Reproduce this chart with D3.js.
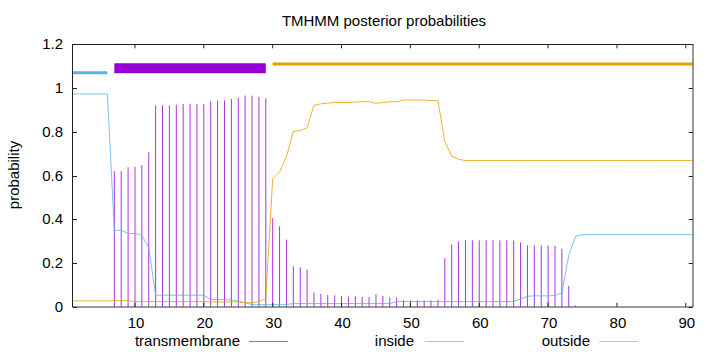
<!DOCTYPE html>
<html><head><meta charset="utf-8">
<script src="https://cdn.jsdelivr.net/npm/d3@7"></script>
<style>
html,body{margin:0;padding:0;background:#fff;}
svg{display:block;}
text{font-family:"Liberation Sans",Arial,sans-serif;fill:#000;}
</style></head>
<body>
<svg id="chart" width="720" height="352"></svg>
<script>
// positions 1..91
const positions = d3.range(1, 92);
const transmembrane = [
  0,0,0,0,0,0,
  0.620,0.620,0.638,0.640,0.648,0.706,
  0.921,0.921,0.921,0.924,0.927,0.927,0.927,0.927,
  0.940,0.942,0.944,0.950,0.956,0.966,0.965,0.959,0.953,
  0.405,0.368,0.307,0.185,0.181,0.170,
  0.066,0.059,0.054,0.052,0.050,0.048,0.048,0.045,0.045,0.057,0.050,0.043,0.042,
  0.030,0.030,0.030,0.029,0.030,0.033,
  0.222,0.284,0.299,0.304,0.304,0.304,0.304,0.304,0.304,0.304,0.303,0.295,
  0.281,0.281,0.280,0.280,0.278,0.265,0.095,0.007,
  0,0,0,0,0,0,0,0,0,0,0,0,0,0,0,0,0
];
const inside = [
  0.973,0.973,0.973,0.973,0.973,0.973,
  0.350,0.350,0.335,0.335,0.326,0.271,
  0.053,0.053,0.053,0.053,0.053,0.053,0.053,0.053,
  0.033,0.033,0.033,0.031,0.027,0.018,0.010,0.010,0.010,
  0.010,0.010,0.010,0.015,0.015,0.015,
  0.015,0.015,0.015,0.015,0.015,0.015,0.015,0.015,0.015,0.015,0.015,0.015,0.024,
  0.024,0.024,0.024,0.024,0.024,0.024,
  0.024,0.024,0.024,0.024,0.024,0.024,0.024,0.024,0.024,0.024,0.024,0.035,
  0.048,0.050,0.050,0.050,0.052,0.063,0.236,0.323,
  0.330,0.330,0.330,0.330,0.330,0.330,0.330,0.330,0.330,0.330,0.330,0.330,0.330,0.330,0.330,0.330,0.330
];
const outside = [
  0.027,0.027,0.027,0.027,0.027,0.027,
  0.028,0.028,0.028,0.024,0.024,0.024,
  0.024,0.024,0.024,0.024,0.024,0.024,0.024,0.024,
  0.022,0.022,0.022,0.022,0.022,0.019,0.018,0.025,0.037,
  0.585,0.617,0.686,0.802,0.806,0.818,
  0.921,0.928,0.931,0.934,0.934,0.934,0.936,0.937,0.938,0.930,0.934,0.937,0.937,
  0.945,0.945,0.945,0.945,0.943,0.942,
  0.756,0.689,0.674,0.669,0.669,0.669,0.669,0.669,0.669,0.669,0.669,0.669,
  0.669,0.669,0.669,0.669,0.669,0.669,0.669,0.669,
  0.669,0.669,0.669,0.669,0.669,0.669,0.669,0.669,0.669,0.669,0.669,0.669,0.669,0.669,0.669,0.669,0.669
];
// predicted topology segments
const segStart = [1, 7, 30];
const segEnd = [6, 29, 91];
const segLevel = [1.07, 1.09, 1.11];
const segKind = ["inside", "transmembrane", "outside"];
const xTicks = [10,20,30,40,50,60,70,80,90];
const yTicks = [0,0.2,0.4,0.6,0.8,1,1.2];
const yTickLabels = ["0","0.2","0.4","0.6","0.8","1","1.2"];
const seriesNames = ["transmembrane","inside","outside"];

const colors = {transmembrane:"#9400D3", inside:"#56B4E9", outside:"#E69F00"};
const segWidth = {transmembrane:10, inside:3, outside:3};

const svg = d3.select("#chart");
const L = 73, R = 692.7, T = 44.3, B = 306.8;
const x = d3.scaleLinear().domain([1, 91]).range([L, R]);
const y = d3.scaleLinear().domain([0, 1.2]).range([B, T]);

// title
svg.append("text").attr("x", 384).attr("y", 26).attr("text-anchor","middle")
  .style("font-size","15px").text("TMHMM posterior probabilities");
// y label
svg.append("text").attr("transform","translate(19,175) rotate(-90)")
  .attr("text-anchor","middle").style("font-size","15px").text("probability");

// impulses
svg.append("g").selectAll("line").data(positions.filter((p,i)=>transmembrane[i]>0))
  .join("line")
  .attr("x1", d=>x(d)).attr("x2", d=>x(d))
  .attr("y1", y(0)).attr("y2", d=>y(transmembrane[d-1]))
  .attr("stroke", colors.transmembrane).attr("stroke-opacity",0.8).attr("stroke-width",1);

// lines
const lineGen = arr => d3.line().x(d=>x(d)).y(d=>y(arr[d-1]))(positions);
svg.append("path").attr("d", lineGen(inside)).attr("fill","none")
  .attr("stroke", colors.inside).attr("stroke-opacity",0.8).attr("stroke-width",1);
svg.append("path").attr("d", lineGen(outside)).attr("fill","none")
  .attr("stroke", colors.outside).attr("stroke-opacity",0.8).attr("stroke-width",1);

// topology bars
svg.append("g").selectAll("line").data(d3.range(segStart.length)).join("line")
  .attr("x1", i=>x(segStart[i])).attr("x2", i=>x(segEnd[i]))
  .attr("y1", i=>y(segLevel[i])).attr("y2", i=>y(segLevel[i]))
  .attr("stroke", i=>colors[segKind[i]]).attr("stroke-width", i=>segWidth[segKind[i]]);

// border
svg.append("line").attr("x1",72.5).attr("x2",72.5).attr("y1",T).attr("y2",307).attr("stroke","#222");
svg.append("line").attr("x1",72).attr("x2",693).attr("y1",44.5).attr("y2",44.5).attr("stroke","#222");
svg.append("line").attr("x1",693).attr("x2",693).attr("y1",44).attr("y2",307).attr("stroke","#333");
svg.append("line").attr("x1",72).attr("x2",693).attr("y1",307).attr("y2",307).attr("stroke","#333");

// ticks
const tk = svg.append("g").attr("stroke","#222").attr("stroke-width",1);
yTicks.forEach(v=>{
  const yy = Math.round(y(v))+0.5;
  tk.append("line").attr("x1",L).attr("x2",L+4).attr("y1",yy).attr("y2",yy);
  tk.append("line").attr("x1",R-4).attr("x2",R).attr("y1",yy).attr("y2",yy);
});
xTicks.forEach(v=>{
  const xx = x(v);
  tk.append("line").attr("x1",xx).attr("x2",xx).attr("y1",B).attr("y2",B-4);
  tk.append("line").attr("x1",xx).attr("x2",xx).attr("y1",T).attr("y2",T+4);
});
svg.append("g").selectAll("text").data(yTicks).join("text")
  .attr("x", 63).attr("y", d=>y(d)+5).attr("text-anchor","end")
  .style("font-size","15px").text((d,i)=>yTickLabels[i]);
svg.append("g").selectAll("text").data(xTicks).join("text")
  .attr("x", d=>x(d)+1).attr("y", 328).attr("text-anchor","middle")
  .style("font-size","15px").text(d=>d);

// legend
const legTextX = [240, 414, 590];
const legLineX = [249, 425, 599];
seriesNames.forEach((n,i)=>{
  svg.append("text").attr("x", legTextX[i]).attr("y", 346).attr("text-anchor","end")
    .style("font-size","15px").text(n);
  svg.append("line").attr("x1", legLineX[i]).attr("x2", legLineX[i]+39)
    .attr("y1", 341.5).attr("y2", 341.5).attr("stroke", colors[n])
    .attr("stroke-opacity",0.65).attr("stroke-width",1);
});
</script>
</body></html>
